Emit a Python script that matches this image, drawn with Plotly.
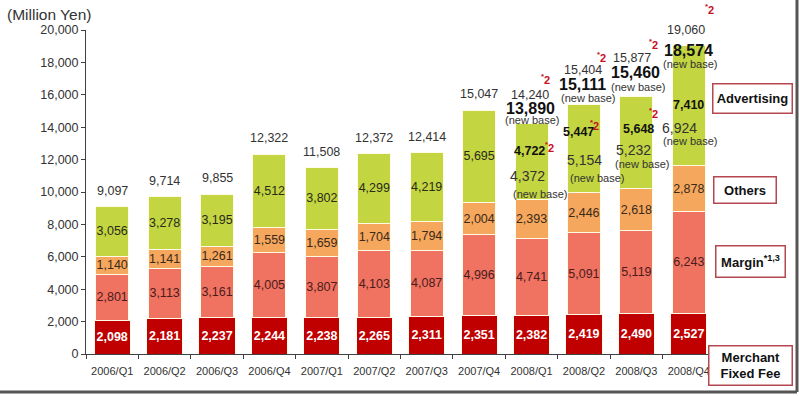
import plotly.graph_objects as go

# ---------------- data ----------------
quarters = ["2006/Q1", "2006/Q2", "2006/Q3", "2006/Q4", "2007/Q1", "2007/Q2",
            "2007/Q3", "2007/Q4", "2008/Q1", "2008/Q2", "2008/Q3", "2008/Q4"]
fixed_fee = [2098, 2181, 2237, 2244, 2238, 2265, 2311, 2351, 2382, 2419, 2490, 2527]
margin = [2801, 3113, 3161, 4005, 3807, 4103, 4087, 4996, 4741, 5091, 5119, 6243]
others = [1140, 1141, 1261, 1559, 1659, 1704, 1794, 2004, 2393, 2446, 2618, 2878]
advertising = [3056, 3278, 3195, 4512, 3802, 4299, 4219, 5695, 4722, 5447, 5648, 7410]
totals = [9097, 9714, 9855, 12322, 11508, 12372, 12414, 15047, 14240, 15404, 15877, 19060]
adv_new_base = [None] * 8 + [4372, 5154, 5232, 6924]
totals_new_base = [None] * 8 + [13890, 15111, 15460, 18574]

# ---------------- geometry / style ----------------
W, H = 799, 396
ML, MR, MT, MB = 86, 84, 30, 42
FONT = "Liberation Sans, Arial, sans-serif"
C_FEE, C_MARGIN, C_OTHERS, C_ADV = "#C00000", "#F07261", "#F5A75E", "#C3D641"
SEP = "#FFFBE6"
RED = "#C8101E"


def px2x(px):
    return (px - ML) / (W - ML - MR)


def px2y(py):
    return (H - MB - py) / (H - MT - MB)


fmt = lambda v: f"{v:,}"

fig = go.Figure()

fig.add_trace(go.Bar(
    x=quarters, y=fixed_fee, name="Merchant Fixed Fee", width=0.69,
    marker=dict(color=C_FEE, line=dict(color=SEP, width=1)),
    text=[fmt(v) for v in fixed_fee], textposition="inside", insidetextanchor="middle",
    textangle=0, textfont=dict(family=FONT, size=12.5, color="white", weight="bold")))
fig.add_trace(go.Bar(
    x=quarters, y=margin, name="Margin", width=0.63,
    marker=dict(color=C_MARGIN, line=dict(color=SEP, width=1)),
    text=[fmt(v) for v in margin], textposition="inside", insidetextanchor="middle",
    textangle=0, textfont=dict(family=FONT, size=12.5, color="#4a1c1c")))
fig.add_trace(go.Bar(
    x=quarters, y=others, name="Others", width=0.63,
    marker=dict(color=C_OTHERS, line=dict(color=SEP, width=1)),
    text=[fmt(v) for v in others], textposition="inside", insidetextanchor="middle",
    textangle=0, textfont=dict(family=FONT, size=12.5, color="#3a2a1a")))
fig.add_trace(go.Bar(
    x=quarters, y=advertising, name="Advertising", width=0.63,
    marker=dict(color=C_ADV, line=dict(color=SEP, width=1)),
    text=[fmt(v) if nb is None else "" for v, nb in zip(advertising, adv_new_base)],
    textposition="inside", insidetextanchor="middle",
    textangle=0, textfont=dict(family=FONT, size=12.5, color="#2a2a1a")))

annotations = []

# totals above bars (old base)
for i, (q, t) in enumerate(zip(quarters, totals)):
    if totals_new_base[i] is None:
        annotations.append(dict(x=q, y=t, xref="x", yref="y", text=fmt(t), showarrow=False,
                                yanchor="middle", yshift=16,
                                font=dict(family=FONT, size=12.5, color="#333333")))

# 2008 labels: (bar index, kind, pixel offset up from stack top, pixel offset right)
label_rows = [
    (8, "old", 28, -2), (8, "new", 15, -1), (8, "nb", 3, 0), (8, "star", 44, 14),
    (8, "adv", -28, -2), (8, "star", -24, 18), (8, "advnb", -53, -4), (8, "nb2", -71, 8),
    (9, "old", 34, -1), (9, "new", 20, -1), (9, "nb", 6, 4), (9, "star", 47, 18),
    (9, "adv", -28, -5), (9, "star", -21, 11), (9, "advnb", -56, 1), (9, "nb2", -74, 13),
    (10, "old", 39, -4), (10, "new", 24, -1), (10, "nb", 10, 2), (10, "star", 53, 17),
    (10, "adv", -32, 2), (10, "star", -16, 17), (10, "advnb", -53, -3), (10, "nb2", -67, 6),
    (11, "old", 15, -3), (11, "new", -5, 0), (11, "nb", -19, 1), (11, "star", 36, 21),
    (11, "adv", -60, 0), (11, "advnb", -83, -9), (11, "nb2", -96, 1),
]
for i, kind, dy, dx in label_rows:
    if kind == "old":
        txt, font = fmt(totals[i]), dict(family=FONT, size=12.5, color="#333333")
    elif kind == "new":
        txt, font = fmt(totals_new_base[i]), dict(family=FONT, size=16, color="#111111", weight="bold")
    elif kind == "nb":
        txt, font = "(new base)", dict(family=FONT, size=11, color="#333333")
    elif kind == "star":
        txt, font = "<sup>*</sup>2", dict(family=FONT, size=11, color=RED, weight="bold")
    elif kind == "adv":
        txt, font = fmt(advertising[i]), dict(family=FONT, size=12.5, color="#111111", weight="bold")
    elif kind == "advnb":
        txt, font = fmt(adv_new_base[i]), dict(family=FONT, size=14, color="#333333")
    else:
        txt, font = "(new base)", dict(family=FONT, size=11, color="#333333")
    annotations.append(dict(x=quarters[i], y=totals[i], xref="x", yref="y", text=txt,
                            showarrow=False, xanchor="center", yanchor="middle",
                            xshift=dx, yshift=dy, font=font))

# unit label
annotations.append(dict(x=px2x(49), y=px2y(14), xref="paper", yref="paper", text="(Million Yen)",
                        showarrow=False, xanchor="center", yanchor="middle",
                        font=dict(family=FONT, size=15.5, color="#333333")))

# right-hand series boxes: (text, center px x, center px y, box w, box h)
boxes = [
    ("Advertising", 753, 98, 78, 28),
    ("Others", 744.5, 189.5, 61, 25),
    ("Margin<sup>*1,3</sup>", 750, 261, 68, 30),
    ("Merchant<br>Fixed Fee", 750, 365, 82, 38),
]
for txt, cx, cy, bw, bh in boxes:
    annotations.append(dict(x=px2x(cx), y=px2y(cy), xref="paper", yref="paper", text=txt,
                            showarrow=False, xanchor="center", yanchor="middle",
                            width=bw, height=bh, align="center", valign="middle",
                            bgcolor="white", bordercolor="#B5474F", borderwidth=1.5, borderpad=0,
                            font=dict(family=FONT, size=13, color="#111111", weight="bold")))

shapes = [
    dict(type="line", xref="paper", yref="paper", x0=px2x(797), x1=px2x(797),
         y0=px2y(0), y1=px2y(392), line=dict(color="#555555", width=3)),
    dict(type="line", xref="paper", yref="paper", x0=px2x(0), x1=px2x(797),
         y0=px2y(392), y1=px2y(392), line=dict(color="#555555", width=3)),
]

fig.update_layout(
    width=W, height=H, margin=dict(l=ML, r=MR, t=MT, b=MB, autoexpand=False),
    barmode="stack", showlegend=False,
    paper_bgcolor="white", plot_bgcolor="white",
    font=dict(family=FONT, color="#333333"),
    uniformtext=dict(minsize=12.5, mode="show"),
    annotations=annotations, shapes=shapes,
    xaxis=dict(showline=True, linecolor="#404040", linewidth=1, ticks="outside",
               tickson="boundaries", ticklen=4, tickcolor="#404040", showgrid=False,
               ticklabelstandoff=7,
               tickfont=dict(family=FONT, size=11, color="#333333"), range=[-0.5, 11.5]),
    yaxis=dict(range=[0, 20000], dtick=2000, tickformat=",d", showline=True, linecolor="#404040",
               linewidth=1, ticks="outside", ticklen=4, tickcolor="#404040", showgrid=False,
               zeroline=False, tickfont=dict(family=FONT, size=12.5, color="#333333")),
)

fig.write_html("out.html", config={"displayModeBar": False},
               post_script="document.body.style.margin='0';")
